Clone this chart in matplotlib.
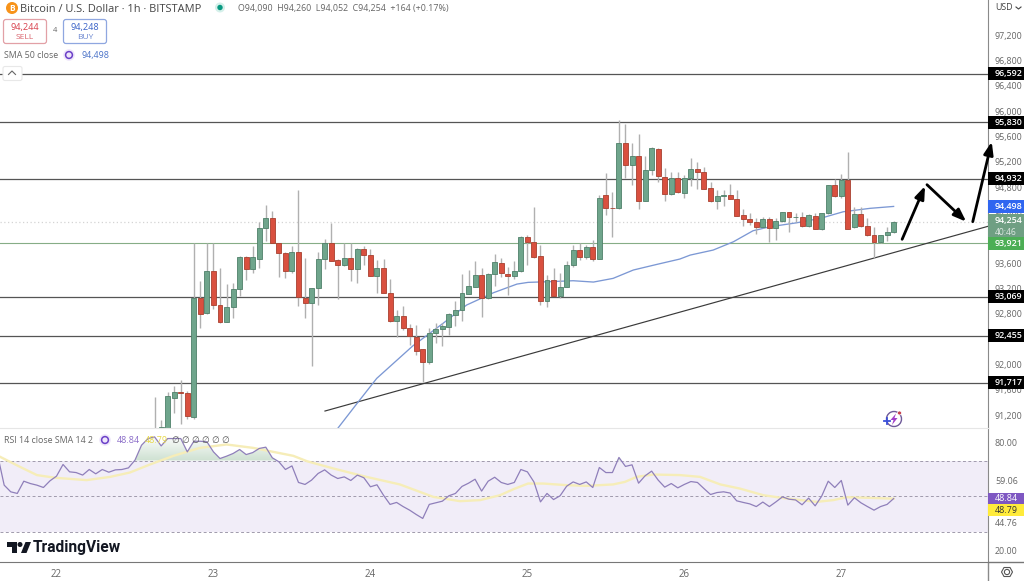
import numpy as np
import matplotlib
matplotlib.use("Agg")
import matplotlib.pyplot as plt
from matplotlib.patches import Rectangle, FancyBboxPatch, Circle, Polygon, Arc
from matplotlib.path import Path

plt.rcParams['font.family'] = ['Open Sans', 'DejaVu Sans']

# hourly candles, first one is hour 15 after the "22" tick (older ones are below the pane)
first_hour = 15
opens = [90900, 90985, 90974, 91447, 91553, 91526, 91158, 93032, 92790, 93463,
         92926, 92658, 92884, 93179, 93674, 93490, 93642, 94132, 94290, 93895,
         93747, 93463, 93763, 93037, 92947, 93184, 93642, 93895, 93626, 93547,
         93658, 93495, 93805, 93705, 93374, 93505, 93116, 92674, 92753, 92563,
         92411, 92221, 92021, 92474, 92537, 92579, 92768, 92842, 93095, 93211,
         93389, 93026, 93405, 93579, 93416, 93379, 93453, 93995, 93916, 93695,
         92989, 93311, 93063, 93211, 93553, 93789, 93674, 93837, 93653, 94658,
         94460, 94447, 95474, 95132, 95268, 94568, 95053, 95379, 94947, 94669,
         94921, 94695, 94921, 95063, 95026, 94763, 94558, 94642, 94663, 94600,
         94337, 94279, 94237, 94147, 94274, 94137, 94253, 94384, 94305, 94316,
         94168, 94326, 94116, 94368, 94811, 94642, 94890, 94147, 94358, 94174,
         94021, 93911, 94021, 94068]
highs = [91474, 91105, 91542, 91642, 91737, 91568, 93905, 93300, 93895, 93895,
         93500, 93247, 93263, 93690, 93690, 93858, 94232, 94500, 94405, 93905,
         93760, 93853, 94737, 93658, 93195, 93763, 93958, 94221, 93642, 93895,
         93905, 93815, 93853, 93800, 93632, 93642, 93326, 92842, 92905, 92621,
         92605, 92225, 92553, 92632, 92632, 92790, 92984, 93405, 93474, 93616,
         93500, 93420, 93721, 93658, 93526, 93616, 94005, 94026, 94474, 93868,
         93395, 93500, 93421, 93621, 93868, 93895, 93868, 93947, 94658, 95000,
         94700, 95842, 95779, 95474, 95616, 95279, 95410, 95395, 95089, 95026,
         95026, 94974, 95237, 95174, 95095, 94868, 94737, 94737, 94832, 94737,
         94432, 94368, 94290, 94316, 94316, 94290, 94395, 94395, 94379, 94395,
         94358, 94368, 94379, 94820, 94905, 94984, 95332, 94474, 94474, 94300,
         94158, 94030, 94147, 94254]
lows = [90800, 90900, 90900, 91211, 91042, 91116, 91116, 92553, 92779, 92853,
        92642, 92647, 92711, 93063, 93316, 93421, 93500, 93937, 93900, 93368,
        93353, 93432, 92905, 92711, 91963, 92921, 93490, 93615, 93016, 93537,
        93305, 93274, 93553, 93380, 93105, 93105, 92658, 92411, 92526, 92284,
        92132, 91711, 91989, 92326, 92274, 92447, 92590, 92674, 93090, 93200,
        92726, 93020, 93221, 93368, 93079, 93332, 93445, 93553, 93658, 92921,
        92884, 93060, 93026, 93205, 93526, 93632, 93642, 93621, 93650, 94342,
        94000, 94440, 94921, 94816, 94432, 94560, 94974, 94868, 94568, 94660,
        94684, 94605, 94800, 94753, 94750, 94550, 94437, 94484, 94590, 94320,
        94168, 94184, 94042, 94130, 93916, 93947, 94235, 94079, 94237, 94158,
        94147, 94116, 94105, 94360, 94621, 94616, 94120, 94130, 94158, 94010,
        93668, 93895, 93937, 94063]
closes = [90950, 90995, 91484, 91553, 91532, 91168, 93026, 92774, 93463, 92916,
          92658, 92884, 93168, 93674, 93490, 93674, 94132, 94290, 93905, 93747,
          93463, 93763, 93042, 92947, 93184, 93653, 93895, 93621, 93547, 93658,
          93495, 93805, 93705, 93384, 93505, 93116, 92674, 92753, 92563, 92437,
          92200, 92021, 92474, 92537, 92590, 92774, 92842, 93105, 93221, 93389,
          93026, 93405, 93595, 93421, 93379, 93453, 93995, 93916, 93684, 92989,
          93311, 93063, 93211, 93553, 93789, 93674, 93837, 93653, 94605, 94447,
          94447, 95474, 95132, 95268, 94568, 95053, 95395, 94963, 94674, 94921,
          94700, 94921, 95063, 95021, 94758, 94558, 94642, 94658, 94595, 94326,
          94274, 94232, 94147, 94274, 94132, 94253, 94384, 94305, 94316, 94168,
          94337, 94126, 94368, 94811, 94642, 94890, 94126, 94358, 94174, 94021,
          93911, 94021, 94068, 94237]
price_fix = 20  # candles were read about a pixel high

sma_hours = [43, 46.15, 48.96, 54.5, 56.35, 59.1, 62.7, 66.8, 70.4, 72.1, 75, 79, 82.1,
             85.1, 88.2, 91.8, 95.3, 96.9, 100.4, 103.5, 106.5, 109.1, 113.2, 116.8,
             120.3, 124.4, 128]
sma_values = [90994, 91414, 91783, 92298, 92440, 92652, 92941, 93135, 93272, 93299, 93309,
              93325, 93304, 93362, 93494, 93583, 93667, 93730, 93809, 93940, 94114, 94177,
              94240, 94310, 94414, 94468, 94498]

levels = [96592, 95830, 94932, 93069, 92455, 91717]
support = 93921
current_price = 94254
sma_last = 94498
price_ticks = [97200, 96800, 96400, 96000, 95600, 95200, 94800, 94400, 93600,
               93200, 92800, 92000, 91600, 91200]

trend_hours = [41.05, 142.6]
trend_prices = [91268, 94189]
arrows = [((129.3, 93979), (132.8, 94820)),
          ((133.1, 94841), (139.1, 94257)),
          ((140.1, 94257), (143.0, 95520))]

# rsi, one value per hour from hour -9
rsi_values = [73.0, 56.3, 52.6, 51.7, 58.5, 57.2, 56.3, 55.0, 58.7, 61.3, 67.8,
              63.7, 63.3, 61.9, 65.0, 62.6, 65.0, 63.5, 64.8, 65.0, 65.9,
              70.2, 78.5, 82.2, 83.1, 78.1, 82.2, 82.2, 82.2, 74.8, 80.7,
              80.7, 80.4, 74.8, 71.1, 72.4, 73.9, 76.1, 73.3, 74.4, 76.7,
              77.4, 71.5, 69.3, 65.0, 67.0, 57.8, 56.7, 59.1, 62.8, 64.8,
              61.9, 60.0, 60.9, 58.9, 61.9, 60.4, 55.4, 56.5, 50.7, 45.6,
              46.7, 44.4, 42.4, 40.0, 37.8, 45.6, 46.5, 47.4, 50.4, 51.7,
              55.6, 57.4, 59.6, 53.0, 58.5, 60.7, 57.8, 56.7, 57.8, 65.0,
              63.7, 58.1, 47.0, 51.7, 48.3, 50.4, 55.7, 58.1, 56.7, 58.1,
              55.0, 66.1, 63.3, 63.3, 71.7, 66.7, 67.6, 57.4, 61.5, 64.1,
              59.1, 55.2, 57.2, 54.8, 56.7, 58.3, 57.8, 54.4, 51.1, 52.2,
              52.6, 51.9, 47.6, 46.7, 45.9, 44.4, 46.9, 44.4, 47.0, 49.8,
              48.5, 48.1, 45.4, 49.1, 44.8, 50.2, 58.5, 55.0, 58.9, 45.2,
              49.3, 46.5, 44.4, 42.4, 44.4, 45.6, 48.84]
rsi_first_hour = 128 - len(rsi_values) + 1

rsi_sma_hours = [-8.6, -5.6, -3, -0.2, 4.6, 8.2, 11.2, 14.3, 17.9, 21.9, 26, 30.1, 36.2, 38.3,
                 42.3, 47.4, 52.5, 57.6, 61.7, 64.8, 67.8, 69.9, 72.1, 74.4, 78, 81, 85.1,
                 86.9, 88.7, 91.2, 95.3, 98.4, 101.5, 104.5, 108.1, 111.6, 116.2, 118.8,
                 120.8, 123.9, 128]
rsi_sma_values = [72.0, 66.5, 61.9, 60.4, 59.1, 60.9, 63.3, 67.8, 72.6, 77.0, 78.9, 77.0, 72.6,
                  69.6, 65.6, 60.9, 56.7, 49.8, 47.4, 48.0, 50.7, 54.1, 57.2, 57.2, 56.3, 55.9,
                  56.7, 58.1, 60.9, 62.2, 61.9, 60.9, 56.7, 54.4, 50.7, 48.9, 47.0, 48.0,
                  49.6, 49.3, 48.79]
rsi_ticks = [80, 59.06, 20]
rsi_bands = [70, 50, 30]

day_hours = [0, 24, 48, 72, 96, 120]
day_labels = ["22", "23", "24", "25", "26", "27"]

W, H = 1024, 581
PANE_R, PANE_B, RSI_B = 988, 428, 562
GREEN, GREEN_E = "#6fa58c", "#4f8069"
RED, RED_E = "#d9503f", "#a8402f"
TEXT = "#666666"
SCALE_SIZE = 6.4
TAG_X = 1.0 + 7 / PANE_R

fig = plt.figure(figsize=(W / 100, H / 100), dpi=100, facecolor="white")
ax = fig.add_axes([0, 1 - PANE_B / H, PANE_R / W, PANE_B / H])
rsi_ax = fig.add_axes([0, 1 - RSI_B / H, PANE_R / W, (RSI_B - PANE_B) / H])

# price pane
hours = np.arange(first_hour, first_hour + len(opens))
o = np.array(opens) + price_fix
c = np.array(closes) + price_fix
hi = np.array(highs) + price_fix
lo = np.array(lows) + price_fix
up = c >= o

ax.hlines(levels, -10, 150, color="#555555", lw=0.9, zorder=1)
ax.axhline(support, color="#86ad86", lw=0.8, zorder=1)
ax.axhline(current_price, color="#d4d4d4", lw=0.9, ls=(0, (1, 2)), zorder=1)
ax.plot(trend_hours, trend_prices, color="#3a3a3a", lw=0.85, zorder=2)
ax.plot(sma_hours, sma_values, color="#7c98d4", lw=0.95, zorder=2)
ax.vlines(hours, lo, hi, color="#b0b0b0", lw=1.0, zorder=3)
ax.bar(hours[up], (c - o)[up], bottom=o[up], width=0.76, color=GREEN, edgecolor=GREEN_E, lw=0.6, zorder=4)
ax.bar(hours[~up], (c - o)[~up], bottom=o[~up], width=0.76, color=RED, edgecolor=RED_E, lw=0.6, zorder=4)

for start, end in arrows:
    ax.annotate("", xy=end, xytext=start, annotation_clip=False, zorder=6,
                arrowprops=dict(arrowstyle="-|>,head_length=0.75,head_width=0.28", color="black",
                                lw=2.0, shrinkA=0, shrinkB=0))

ax.set_xlim(-8.64, 142.43)
ax.set_ylim(91000, 97757)
ax.set_xticks([])
ax.yaxis.tick_right()
ax.set_yticks(price_ticks, [f"{v:,}" for v in price_ticks])
ax.tick_params(axis="y", length=0, pad=5, labelsize=SCALE_SIZE, labelcolor=TEXT)
for s in ("top", "left", "bottom"):
    ax.spines[s].set_visible(False)
ax.spines["right"].set_color("#8a8a8a")


def price_tag(axis, value, lines, fc, tc, height, text_size=SCALE_SIZE):
    # tag box on the right scale, centred on its value
    axis.add_patch(Rectangle((1.0, value - height / 2), 36 / PANE_R, height, fc=fc, ec="none",
                             transform=axis.get_yaxis_transform(), clip_on=False, zorder=5))
    if lines:
        axis.text(TAG_X, value, lines, color=tc, ha="left", va="center", fontsize=text_size,
                  fontweight="semibold", transform=axis.get_yaxis_transform(), clip_on=False, zorder=6)


tag_h = 205
for lv in levels:
    price_tag(ax, lv, f"{lv:,}", "black", "white", tag_h)
price_tag(ax, sma_last, f"{sma_last:,}", "#2f66f0", "white", 215)
price_tag(ax, 94197, "", "#6f9f83", "white", 363)
ax.text(TAG_X, current_price + 20, f"{current_price:,}", color="white", ha="left", va="center",
        fontsize=SCALE_SIZE, fontweight="semibold", transform=ax.get_yaxis_transform(), clip_on=False, zorder=6)
ax.text(TAG_X, 94090, "40:46", color="#dfe9e3", ha="left", va="center",
        fontsize=6.2, transform=ax.get_yaxis_transform(), clip_on=False, zorder=6)
price_tag(ax, support - 9, f"{support:,}", "#4cae55", "white", 205)

# rsi pane
rsi_hours = np.arange(rsi_first_hour, 129)
rsi = np.array(rsi_values)
rsi_ax.axhspan(rsi_bands[2], rsi_bands[0], color="#f1edf8", lw=0, zorder=0)
for b in rsi_bands:
    rsi_ax.axhline(b, color="#a09aac", lw=0.7, ls=(0, (3, 2.5)), zorder=1)

over = rsi_ax.fill_between(rsi_hours, rsi, 70, where=rsi > 70, interpolate=True, color="none")
grad = np.zeros((64, 2, 4))
grad[..., 1] = 0.6
grad[..., 0] = 0.35
grad[..., 2] = 0.4
grad[..., 3] = np.linspace(0.0, 0.3, 64)[:, None]
img = rsi_ax.imshow(grad, extent=[-8.64, 142.43, 70, 85], aspect="auto", zorder=1)
img.set_clip_path(Path.make_compound_path(*over.get_paths()), transform=rsi_ax.transData)

rsi_ax.plot(rsi_sma_hours, rsi_sma_values, color="#f6edb8", lw=1.7, zorder=2)
rsi_ax.plot(rsi_hours, rsi, color="#8f7fba", lw=0.9, zorder=3)

rsi_ax.set_xlim(-8.64, 142.43)
rsi_ax.set_ylim(13.6, 88.06)
rsi_ax.set_xticks(day_hours, day_labels)
rsi_ax.tick_params(axis="x", length=0, pad=5, labelsize=7, labelcolor=TEXT)
rsi_ax.yaxis.tick_right()
rsi_ax.set_yticks(rsi_ticks, [f"{v:.2f}" for v in rsi_ticks])
rsi_ax.tick_params(axis="y", length=0, pad=5, labelsize=SCALE_SIZE, labelcolor=TEXT)
rsi_ax.spines["left"].set_visible(False)
rsi_ax.spines["top"].set_color("#e6e6e6")
rsi_ax.spines["right"].set_color("#8a8a8a")
rsi_ax.spines["bottom"].set_color("#777777")
rsi_ax.annotate("44.76", xy=(1.0, 44.76), xycoords=rsi_ax.get_yaxis_transform(), xytext=(5, -12.3),
                textcoords="offset points", color=TEXT, fontsize=SCALE_SIZE, va="center", annotation_clip=False)
rsi_ax.add_patch(Rectangle((1.0, 45.6), 36 / PANE_R, 6.4, fc="#7e57c2", ec="none",
                           transform=rsi_ax.get_yaxis_transform(), clip_on=False, zorder=5))
rsi_ax.text(TAG_X, 48.84, "48.84", color="white", ha="left", va="center", fontsize=SCALE_SIZE,
            transform=rsi_ax.get_yaxis_transform(), clip_on=False, zorder=6)
rsi_ax.add_patch(Rectangle((1.0, 39.2), 36 / PANE_R, 6.4, fc="#ffeb3b", ec="none",
                           transform=rsi_ax.get_yaxis_transform(), clip_on=False, zorder=5))
rsi_ax.text(TAG_X, 42.4, "48.79", color="#333333", ha="left", va="center", fontsize=SCALE_SIZE,
            transform=rsi_ax.get_yaxis_transform(), clip_on=False, zorder=6)

# header, logo and other chart furniture, in pixel coordinates
ui = fig.add_axes([0, 0, 1, 1], zorder=10)
ui.set_xlim(0, W)
ui.set_ylim(H, 0)
ui.axis("off")
ui.patch.set_alpha(0)

ui.vlines(PANE_R, RSI_B, H, color="#8a8a8a", lw=1.0)
ui.hlines(RSI_B, PANE_R, W, color="#777777", lw=1.0)
ui.add_patch(Circle((12, 8), 6, fc="#f7931a", ec="none"))
ui.text(12, 8.3, "B", color="white", fontsize=6, fontweight="bold", ha="center", va="center")
ui.text(20, 9, "Bitcoin / U.S. Dollar · 1h · BITSTAMP", color="#444444", fontsize=7.95, va="center")
ui.add_patch(Circle((220, 7.5), 5, fc="#d5f0ea", ec="none"))
ui.add_patch(Circle((220, 7.5), 2.7, fc="#089981", ec="none"))
ui.text(238, 9, "O94,090  H94,260  L94,052  C94,254  +164 (+0.17%)", color="#666666", fontsize=6.4, va="center")

ui.add_patch(FancyBboxPatch((3.5, 19.5), 43, 24, boxstyle="round,pad=0,rounding_size=2.5", fc="white", ec="#e2a0a6", lw=0.9))
ui.add_patch(FancyBboxPatch((63.5, 19.5), 43, 24, boxstyle="round,pad=0,rounding_size=2.5", fc="white", ec="#8fa7e0", lw=0.9))
ui.text(25, 27.5, "94,244", color="#d8404c", fontsize=6.6, ha="center", va="center")
ui.text(25, 37.5, "SELL", color="#d8606a", fontsize=6, ha="center", va="center")
ui.text(85, 27.5, "94,248", color="#3a62c8", fontsize=6.6, ha="center", va="center")
ui.text(85, 37.5, "BUY", color="#6a86d0", fontsize=6, ha="center", va="center")
ui.text(55, 31, "4", color="#666666", fontsize=5.5, ha="center", va="center")

ui.text(4, 55.5, "SMA 50 close", color="#666666", fontsize=6.4, va="center")
ui.text(82, 55.5, "94,498", color="#4a72c8", fontsize=6.4, va="center")
ui.add_patch(FancyBboxPatch((3, 66.5), 19, 14, boxstyle="round,pad=0,rounding_size=2", fc="white", ec="#e8e8e8", lw=0.8))
ui.plot([8.5, 12, 15.5], [74.5, 71, 74.5], color="#666666", lw=0.8)

ui.text(4, 440.5, "RSI 14 close SMA 14 2", color="#666666", fontsize=6.4, va="center")
ui.text(117, 440.5, "48.84", color="#8a6cc8", fontsize=6.4, va="center")
ui.text(145, 440.5, "48.79", color="#e8d84a", fontsize=6.4, va="center")
ui.text(172, 440.5, "∅ ∅ ∅ ∅ ∅ ∅", color="#555555", fontsize=6.4, va="center")

for cx, cy in ((69, 55), (105, 440)):
    ui.add_patch(Circle((cx, cy), 5.8, fc="#eee6fa", ec="none"))
    ui.add_patch(Circle((cx, cy), 3.4, fc="none", ec="#6a3fc8", lw=1.1))

# assistant icon: open ring, bolt, red dot, blue plus
ui.add_patch(Arc((894, 419), 15, 15, theta1=0, theta2=360, ec="#6f5a9a", lw=1.0))
ui.add_patch(Polygon([(896, 413.5), (890.5, 420), (893.5, 420), (892, 425), (897.5, 418), (894.5, 418)],
                     fc="#a23fc8", ec="none"))
ui.add_patch(Circle((899.5, 413), 2.0, fc="#c8404c", ec="white", lw=0.5))
ui.plot([883.5, 889.5], [421, 421], color="#3a4fd8", lw=1.3)
ui.plot([886.5, 886.5], [418, 424], color="#3a4fd8", lw=1.3)

ui.add_patch(Polygon([(7, 542), (17, 542), (17, 553), (12, 553), (12, 547), (7, 547)], fc="#131722", ec="none"))
ui.add_patch(Circle((20, 544.5), 2.5, fc="#131722", ec="none"))
ui.add_patch(Polygon([(21, 553), (25.5, 542), (31, 542), (26.5, 553)], fc="#131722", ec="none"))
ui.text(33, 547.5, "TradingView", color="#131722", fontsize=11.2, fontweight="bold", va="center", family="Roboto")

ui.text(995, 8, "USD", color="#444444", fontsize=6.4, va="center")
ui.plot([1016, 1018.5, 1021], [7, 9, 7], color="#444444", lw=0.8)
ui.add_patch(Circle((1007, 572), 2.6, fc="none", ec="#555555", lw=0.8))
ui.add_patch(Polygon([(1001.5, 572), (1004, 567.5), (1010, 567.5), (1012.5, 572), (1010, 576.5), (1004, 576.5)],
                     fc="none", ec="#555555", lw=0.8))

assert len(opens) == len(highs) == len(lows) == len(closes)
fig.savefig("out.png", dpi=100, facecolor="white")
